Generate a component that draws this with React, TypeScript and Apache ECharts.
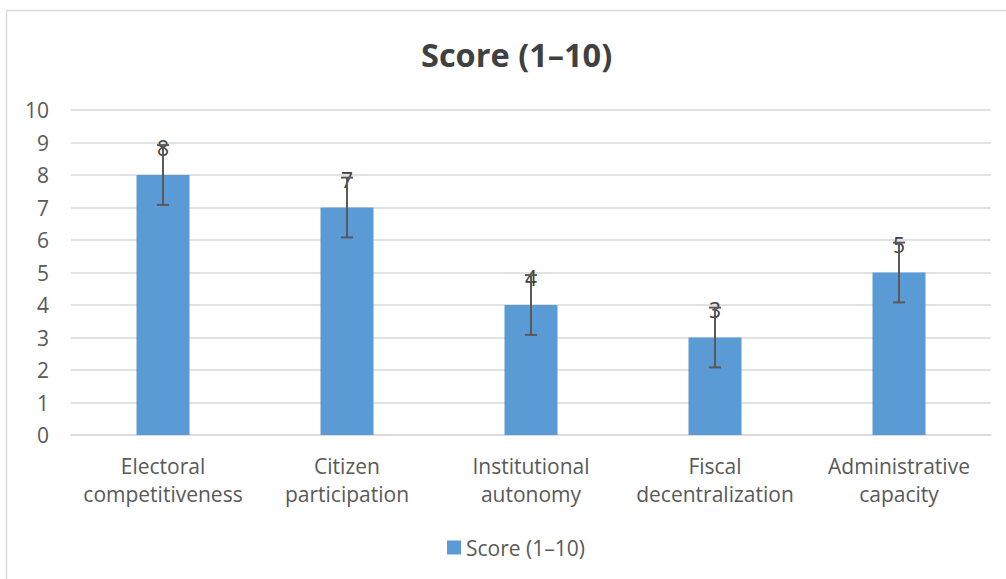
import React, { useEffect, useRef } from "react";
import * as echarts from "echarts";

const categories = [
  "Electoral\ncompetitiveness",
  "Citizen\nparticipation",
  "Institutional\nautonomy",
  "Fiscal\ndecentralization",
  "Administrative\ncapacity",
];
const scores = [8, 7, 4, 3, 5];
const errors = [0.92, 0.92, 0.92, 0.92, 0.92];
const seriesName = "Score (1–10)";
const titleText = "Score (1–10)";

const FONT = "'Open Sans', sans-serif";
const GRAY = "#595959";

export default function App() {
  const ref = useRef<HTMLDivElement>(null);
  useEffect(() => {
    if (!ref.current) return;
    const chart = echarts.init(ref.current, null, { renderer: "svg" });
    chart.setOption({
      animation: false,
      backgroundColor: "#ffffff",
      textStyle: { fontFamily: FONT },
      title: {
        text: titleText,
        left: 416,
        top: 33,
        textStyle: { fontFamily: FONT, fontWeight: "bold", fontSize: 32.5, color: "#404040" },
      },
      graphic: [
        {
          type: "rect",
          shape: { x: 6.5, y: 10.5, width: 1200, height: 800 },
          style: { fill: "none", stroke: "#d9d9d9", lineWidth: 1.5 },
          silent: true,
        },
      ],
      legend: {
        bottom: 16,
        left: 442,
        icon: "rect",
        itemWidth: 14,
        itemHeight: 14,
        itemGap: 8,
        textStyle: { fontFamily: FONT, fontSize: 21, color: GRAY },
        data: [seriesName],
      },
      grid: { left: 71, right: 15, top: 110, bottom: 144 },
      xAxis: {
        type: "category",
        data: categories,
        axisTick: { show: false },
        axisLine: { lineStyle: { color: "#d9d9d9", width: 1.5 } },
        axisLabel: {
          fontFamily: FONT,
          fontSize: 21,
          color: GRAY,
          lineHeight: 28,
          margin: 17,
          interval: 0,
        },
      },
      yAxis: {
        type: "value",
        min: 0,
        max: 10,
        interval: 1,
        axisLine: { show: false },
        axisTick: { show: false },
        splitLine: { lineStyle: { color: "#d9d9d9", width: 1.5 } },
        axisLabel: { fontFamily: FONT, fontSize: 21, color: GRAY, margin: 22 },
      },
      series: [
        {
          name: seriesName,
          type: "bar",
          data: scores,
          barWidth: 53,
          itemStyle: { color: "#5b9bd5" },
          label: {
            show: true,
            position: "top",
            distance: 17,
            fontFamily: FONT,
            fontSize: 21,
            color: "#404040",
          },
          z: 2,
        },
        {
          name: "err",
          type: "custom",
          z: 3,
          data: scores.map((v, i) => [i, v - errors[i], v + errors[i]]),
          renderItem: (params: any, api: any) => {
            const i = api.value(0);
            const lo = api.coord([i, api.value(1)]);
            const hi = api.coord([i, api.value(2)]);
            const x = lo[0];
            const half = 6;
            const st = { stroke: GRAY, lineWidth: 2 };
            return {
              type: "group",
              children: [
                { type: "line", shape: { x1: x, y1: lo[1], x2: x, y2: hi[1] }, style: st },
                { type: "line", shape: { x1: x - half, y1: lo[1], x2: x + half, y2: lo[1] }, style: st },
                { type: "line", shape: { x1: x - half, y1: hi[1], x2: x + half, y2: hi[1] }, style: st },
              ],
            };
          },
          silent: true,
        },
      ],
    });
    return () => chart.dispose();
  }, []);
  return (
    <div
      ref={ref}
      style={{ position: "fixed", left: 0, top: 0, width: 1006, height: 579 }}
    />
  );
}
